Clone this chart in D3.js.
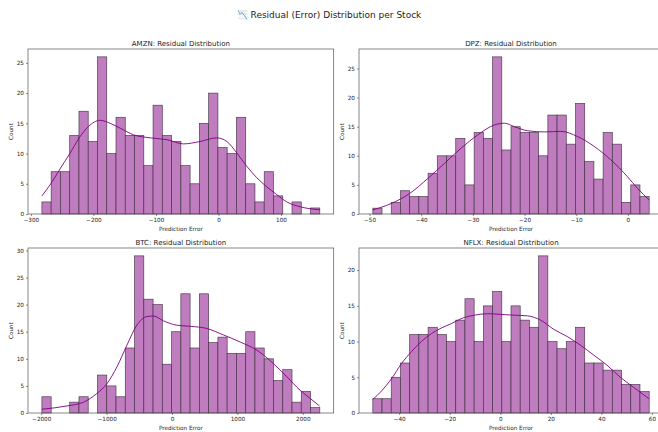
<!DOCTYPE html>
<html><head><meta charset="utf-8">
<script src="https://cdn.jsdelivr.net/npm/d3@7"></script>
<style>
html,body{margin:0;padding:0;background:#fff;overflow:hidden;}
text{font-family:"DejaVu Sans",sans-serif;fill:#222;}
</style></head>
<body>
<svg id="chart" width="658" height="432"></svg>
<script>
const suptitle = "📉 Residual (Error) Distribution per Stock";
const stocks = ["AMZN", "DPZ", "BTC", "NFLX"];

// histogram bin ranges (30 bins each)
const amznRange = [-282.4, 162.0];
const dpzRange = [-49.36, 4.12];
const btcRange = [-1990, 2260];
const nflxRange = [-50.4, 58.9];

const amznCounts = [2,7,7,13,17,12,26,10,16,13,13,8,18,13,12,8,5,15,20,11,10,16,5,2,7,3,0,2,0,1];
const dpzCounts = [1,0,2,4,3,3,7,10,10,13,5,14,13,27,11,15,14,14,10,17,17,12,19,9,6,14,12,2,5,3];
const btcCounts = [3,0,0,2,3,0,7,5,3,12,29,21,20,9,15,22,12,22,13,14,11,11,15,12,10,6,8,2,4,1];
const nflxCounts = [2,2,5,7,11,11,12,11,10,13,16,10,15,17,10,15,13,12,22,10,9,10,12,7,7,6,6,4,4,3];

// KDE curves
const amznKdeX = [-282.4,-267.5,-252.6,-237.7,-222.7,-207.8,-189.2,-173.2,-157.2,-135.9,-109.3,-82.6,-56.0,-29.4,-2.7,13.3,29.3,45.2,61.2,77.2,93.2,109.2,130.5,161.9];
const amznKdeY = [3.0,5.1,7.6,10.0,12.6,14.5,15.5,15.0,14.2,13.1,12.6,12.3,11.6,12.0,12.6,12.0,10.1,7.9,6.0,4.5,3.2,2.0,1.2,0.7];
const dpzKdeX = [-49.36,-45.81,-42.27,-38.72,-35.5,-32.28,-29.04,-25.84,-23.9,-21.97,-19.39,-16.17,-12.95,-9.73,-6.51,-3.29,-0.07,1.87,4.12];
const dpzKdeY = [0.7,1.8,3.5,6.1,8.7,11.3,13.6,15.3,15.6,15.0,14.3,14.1,14.2,13.3,11.6,9.3,6.4,4.4,2.4];
const btcKdeX = [-1990,-1608,-1353,-1149,-996,-843,-690,-538,-385,-283,-130,74,278,532,787,1042,1297,1552,1755,1959,2112,2255];
const btcKdeY = [0.7,1.3,2.0,3.6,5.4,8.5,12.5,16.2,17.8,17.9,17.0,16.2,16.0,15.6,14.4,13.1,11.6,9.1,6.7,4.2,2.7,1.3];
const nflxKdeX = [-50.4,-46.9,-43.0,-39.1,-35.1,-31.2,-27.3,-23.3,-19.4,-15.5,-10.2,-5.0,0.3,5.5,10.8,16.0,21.2,26.5,31.7,37.0,42.2,47.5,52.7,58.8];
const nflxKdeY = [1.9,3.1,4.8,6.9,8.6,10.0,11.1,11.9,12.5,13.2,13.7,13.9,13.8,13.7,13.6,13.0,11.7,10.7,9.5,8.1,6.7,5.0,3.6,2.0];

// tick labels
const amznXTicks = [-300,-200,-100,0,100];
const dpzXTicks = [-50,-40,-30,-20,-10,0];
const btcXTicks = [-2000,-1000,0,1000,2000];
const nflxXTicks = [-40,-20,0,20,40,60];
const amznYTicks = [0,5,10,15,20,25];
const dpzYTicks = [0,5,10,15,20,25];
const btcYTicks = [0,5,10,15,20,25,30];
const nflxYTicks = [0,5,10,15,20];

const panels = [
  {name: stocks[0], range: amznRange, counts: amznCounts, kx: amznKdeX, ky: amznKdeY, xt: amznXTicks, yt: amznYTicks, box: [28, 333.7, 49, 214]},
  {name: stocks[1], range: dpzRange, counts: dpzCounts, kx: dpzKdeX, ky: dpzKdeY, xt: dpzXTicks, yt: dpzYTicks, box: [359, 663, 49, 214]},
  {name: stocks[2], range: btcRange, counts: btcCounts, kx: btcKdeX, ky: btcKdeY, xt: btcXTicks, yt: btcYTicks, box: [28, 333.7, 248, 413]},
  {name: stocks[3], range: nflxRange, counts: nflxCounts, kx: nflxKdeX, ky: nflxKdeY, xt: nflxXTicks, yt: nflxYTicks, box: [359, 663, 248, 413]}
];

const svg = d3.select("#chart");
svg.append("text").attr("x", 329).attr("y", 18).attr("text-anchor", "middle")
  .style("font-size", "9px").text(suptitle);

const fmt = d3.format("");
panels.forEach(p => {
  const [x0, x1, y0, y1] = p.box;
  const span = p.range[1] - p.range[0];
  const x = d3.scaleLinear().domain([p.range[0] - 0.05 * span, p.range[1] + 0.05 * span]).range([x0, x1]);
  const y = d3.scaleLinear().domain([0, d3.max(p.counts) * 1.05]).range([y1, y0]);
  const n = p.counts.length;
  const bw = span / n;
  const bins = p.counts.map((c, i) => ({a: p.range[0] + i * bw, b: p.range[0] + (i + 1) * bw, c}));
  const g = svg.append("g");

  g.selectAll("rect.bar").data(bins.filter(d => d.c > 0)).enter().append("rect")
    .attr("x", d => x(d.a)).attr("width", d => x(d.b) - x(d.a))
    .attr("y", d => y(d.c)).attr("height", d => y(0) - y(d.c))
    .attr("fill", "#bf7cbf").attr("stroke", "#3a2a3a").attr("stroke-opacity", 0.85).attr("stroke-width", 0.7);

  const line = d3.line().x(d => x(d[0])).y(d => y(d[1])).curve(d3.curveMonotoneX);
  g.append("path").datum(p.kx.map((v, i) => [v, p.ky[i]]))
    .attr("d", line).attr("fill", "none").attr("stroke", "#800080").attr("stroke-width", 0.9);

  // frame
  g.append("rect").attr("x", x0).attr("y", y0).attr("width", x1 - x0).attr("height", y1 - y0)
    .attr("fill", "none").attr("stroke", "#555").attr("stroke-width", 0.7);

  const xa = g.append("g").attr("transform", `translate(0,${y1})`)
    .call(d3.axisBottom(x).tickValues(p.xt).tickFormat(fmt).tickSize(2).tickPadding(1.5));
  const ya = g.append("g").attr("transform", `translate(${x0},0)`)
    .call(d3.axisLeft(y).tickValues(p.yt).tickFormat(fmt).tickSize(2).tickPadding(2));
  [xa, ya].forEach(a => {
    a.select(".domain").remove();
    a.selectAll("line").attr("stroke", "#444").attr("stroke-width", 0.6);
    a.selectAll("text").style("font-size", "5.7px").attr("fill", "#222");
  });

  g.append("text").attr("x", (x0 + Math.min(x1, 663)) / 2).attr("y", y0 - 3.5)
    .attr("text-anchor", "middle").style("font-size", "7px").text(p.name + ": Residual Distribution");
  g.append("text").attr("x", (x0 + x1) / 2).attr("y", y1 + 16.5)
    .attr("text-anchor", "middle").style("font-size", "5.7px").text("Prediction Error");
  g.append("text").attr("transform", `translate(${x0 - 15},${(y0 + y1) / 2}) rotate(-90)`)
    .attr("text-anchor", "middle").style("font-size", "5.7px").text("Count");
});
</script>
</body></html>
